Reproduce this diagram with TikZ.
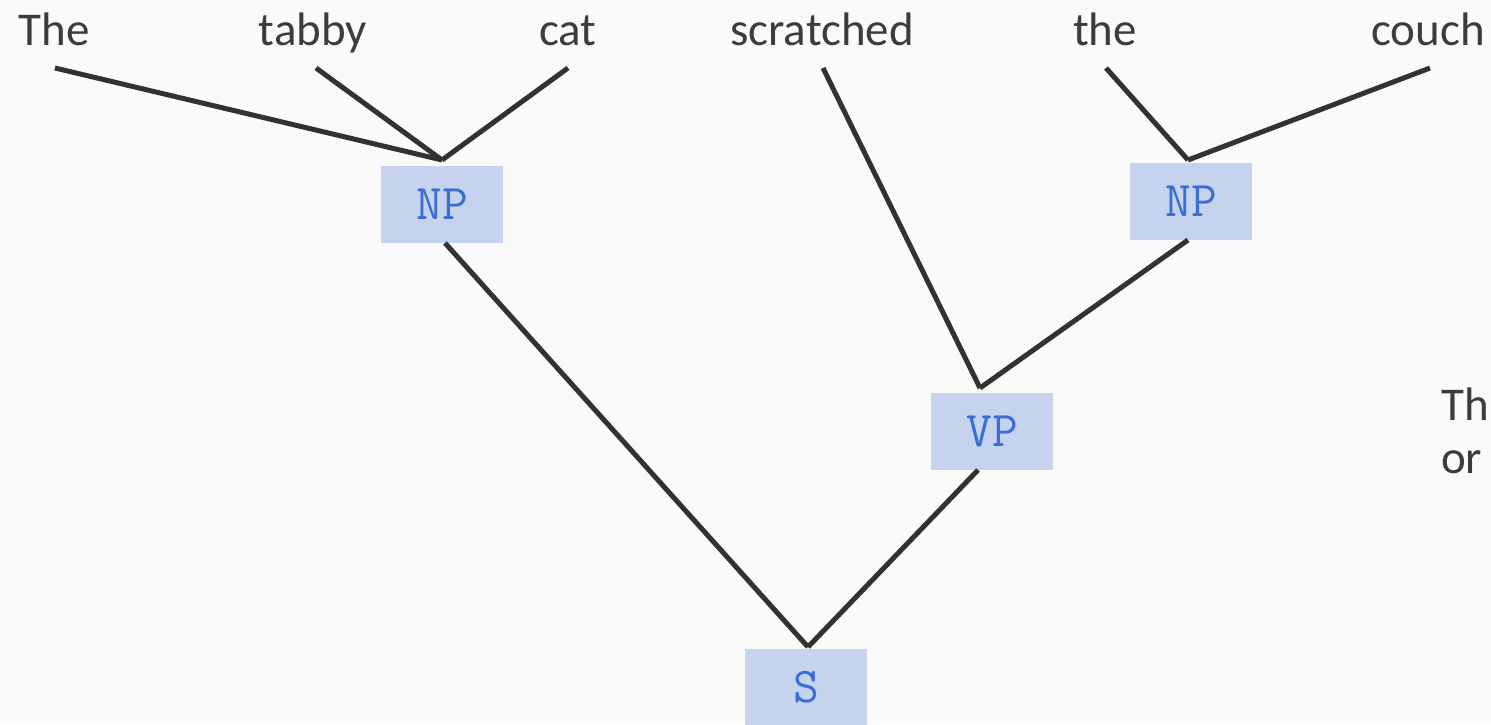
\documentclass[tikz,border=0pt]{standalone}
\usepackage{fontspec}
\setmainfont{Carlito}
\definecolor{bgc}{RGB}{250,250,250}
\definecolor{boxc}{RGB}{197,211,238}
\definecolor{labc}{RGB}{58,110,210}
\definecolor{linec}{RGB}{50,50,50}
\definecolor{wordc}{RGB}{60,60,60}
\begin{document}
\begin{tikzpicture}[x=1pt,y=-1pt,
  word/.style={inner sep=0pt,anchor=base,text=wordc,font=\fontsize{47}{53}\selectfont},
  catbox/.style={fill=boxc,minimum width=122pt,minimum height=77pt,inner sep=0pt,text=labc,font=\ttfamily\fontsize{50}{55}\selectfont},
  edge/.style={draw=linec,line width=5pt}]
\useasboundingbox[fill=bgc] (0,0) rectangle (1491,724);
\clip (0,0) rectangle (1491,724);
% words
\node[word] (w1) at (54,45) {The};
\node[word] (w2) at (313,45) {tabby};
\node[word] (w3) at (568,45) {cat};
\node[word] (w4) at (822,45) {scratched};
\node[word] (w5) at (1105,45) {the};
\node[word] (w6) at (1428,45) {couch};
\node[word,anchor=base west] (t1) at (1441,420) {Th};
\node[word,anchor=base west] (t2) at (1441,473) {or};
% category boxes
\node[catbox] (np1) at (442,204.5) {NP};
\node[catbox] (np2) at (1191,201.5) {NP};
\node[catbox] (vp) at (992,431.5) {VP};
\node[catbox] (s) at (806,687.5) {S};
% connector end points
\coordinate (w1b) at (55,68);
\coordinate (w2b) at (316,68);
\coordinate (w3b) at (568,68);
\coordinate (w4b) at (823,68);
\coordinate (w5b) at (1106,68);
\coordinate (w6b) at (1430,68);
\coordinate (np1t) at (442,160);
\coordinate (np1b) at (445,243);
\coordinate (np2t) at (1188,160);
\coordinate (np2b) at (1188,240);
\coordinate (vpt) at (980,388);
\coordinate (vpb) at (978,470);
\coordinate (st) at (808,647);
% connectors
\draw[edge] (w1b) -- (np1t);
\draw[edge] (w2b) -- (np1t);
\draw[edge] (w3b) -- (np1t);
\draw[edge] (w4b) -- (vpt);
\draw[edge] (np2b) -- (vpt);
\draw[edge] (w5b) -- (np2t);
\draw[edge] (w6b) -- (np2t);
\draw[edge] (np1b) -- (st);
\draw[edge] (vpb) -- (st);
\end{tikzpicture}
\end{document}
